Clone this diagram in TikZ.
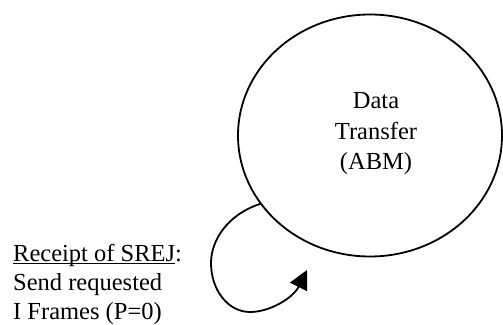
\documentclass[tikz,border=0pt]{standalone}
\usepackage{fontspec}
\setmainfont{Liberation Serif}
\usetikzlibrary{shapes.geometric,arrows.meta}
\newcommand{\wordul}[1]{\setbox0\hbox{#1}\rlap{\rule[-2.8pt]{\wd0}{0.9pt}}\box0}
\tikzset{
  statebox/.style={ellipse, draw, line width=1.8pt, minimum width=264pt, minimum height=242pt, inner sep=0pt, outer sep=0pt},
  bigtext/.style={font=\fontsize{24.5}{30.5}\selectfont, inner sep=0pt, align=center},
  sidetext/.style={font=\fontsize{24.5}{29}\selectfont, inner sep=0pt, align=left},
  loopline/.style={line width=1.8pt, -{Triangle[length=19pt,width=19pt]}}
}
\begin{document}
\begin{tikzpicture}[x=1pt,y=-1pt]
\useasboundingbox (0,0) rectangle (503,324);
\node[statebox] (dt) at (370,135.5) {};
\node[bigtext] (dtlabel) at (376,134) {Data\\Transfer\\(ABM)};
\node[sidetext, anchor=west] (srej) at (13,284) {\wordul{Receipt of SREJ}:\\Send requested\\I Frames (P=0)};
\coordinate (looptip) at (307,270);
\draw[loopline] (dt.212) .. controls (228,214) and (211,240) .. (211,263)
  .. controls (211,290) and (228,312) .. (250,312)
  .. controls (270,312) and (293,298) .. (looptip);
\end{tikzpicture}
\end{document}
